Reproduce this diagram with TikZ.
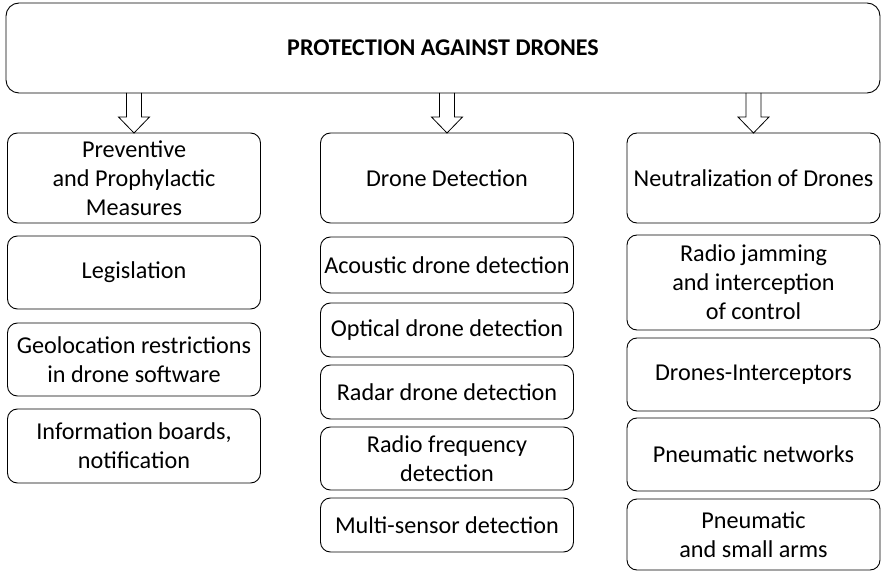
\documentclass[tikz,border=0pt]{standalone}
\usepackage{fontspec}
\setmainfont{Carlito}
\usetikzlibrary{positioning,calc}

% hollow block arrow from the title box down to a column head
\newcommand{\hollowarrow}[1]{%
	\draw[arrowline] ($(prot.south -| #1.north)+(-7.5,0)$) -- ($(#1.north)+(-7.5,16)$)
		-- ($(#1.north)+(-15.5,16)$) -- (#1.north) -- ($(#1.north)+(15.5,16)$)
		-- ($(#1.north)+(7.5,16)$) -- ($(prot.south -| #1.north)+(7.5,0)$);
}

\begin{document}
\begin{tikzpicture}[
x=1pt, y=1pt,
font=\fontsize{24.2}{29}\selectfont,
box/.style={draw, line width=0.9pt, rounded corners=10pt, align=center,
	inner sep=0pt, outer sep=0pt, minimum width=253pt},
topbox/.style={box, rounded corners=13pt, minimum width=874pt, minimum height=90pt,
	font=\fontsize{24}{29}\selectfont\bfseries},
headbox/.style={box, minimum height=90pt},
arrowline/.style={draw, line width=0.8pt, line join=miter},
]
	\useasboundingbox (0,0) rectangle (884,-572);

	\node[topbox] (prot) at (443,-48) {PROTECTION AGAINST DRONES}; %root

	% column heads
	\node[headbox] (prev) at (134,-178) {Preventive\\and Prophylactic\\Measures};
	\node[headbox] (detect) at (447,-178) {Drone Detection};
	\node[headbox] (neutral) at (753.5,-178) {Neutralization of Drones};

	\hollowarrow{prev}
	\hollowarrow{detect}
	\hollowarrow{neutral}

	% left column
	\node[box, minimum height=73pt, below=13pt of prev] (legis) {Legislation};
	\node[box, minimum height=73pt, below=14pt of legis] (geo) {Geolocation restrictions\\in drone software};
	\node[box, minimum height=74pt, below=13pt of geo] (boards) {Information boards,\\notification};

	% middle column
	\node[box, minimum height=56pt, below=14pt of detect] (acoustic) {Acoustic drone detection};
	\node[box, minimum height=54pt, below=10pt of acoustic] (optical) {Optical drone detection};
	\node[box, minimum height=54pt, below=8pt of optical] (radar) {Radar drone detection};
	\node[box, minimum height=63pt, below=8pt of radar] (radiofreq) {Radio frequency\\detection};
	\node[box, minimum height=54pt, below=8pt of radiofreq] (multi) {Multi-sensor detection};

	% right column
	\node[box, minimum height=95pt, below=12pt of neutral] (jamming) {Radio jamming\\and interception\\of control};
	\node[box, minimum height=73pt, below=8pt of jamming] (intercept) {Drones-Interceptors};
	\node[box, minimum height=73pt, below=7pt of intercept] (nets) {Pneumatic networks};
	\node[box, minimum height=71pt, below=8pt of nets] (arms) {Pneumatic\\and small arms};
\end{tikzpicture}
\end{document}
